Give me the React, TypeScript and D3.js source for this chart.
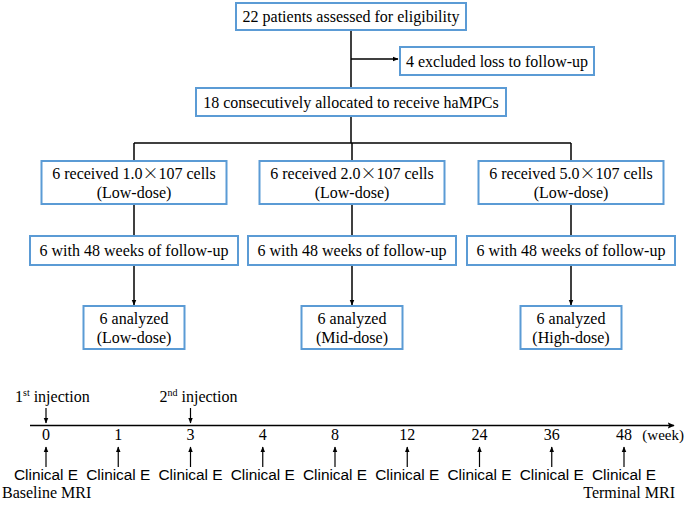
import React from "react";
import * as d3 from "d3";

// ---------- data ----------
const topLabel = "22 patients assessed for eligibility";
const excludedLabel = "4 excluded loss to follow-up";
const allocatedLabel = "18 consecutively allocated to receive haMPCs";
const doseFactors = ["1.0", "2.0", "5.0"];
const doseGroupLabels = ["(Low-dose)", "(Low-dose)", "(Low-dose)"];
const followUpLabels = [
  "6 with 48 weeks of follow-up",
  "6 with 48 weeks of follow-up",
  "6 with 48 weeks of follow-up",
];
const analyzedGroups = ["(Low-dose)", "(Mid-dose)", "(High-dose)"];
const weeks = ["0", "1", "3", "4", "8", "12", "24", "36", "48"];
const injections = [
  { week: "0", num: "1", ord: "st" },
  { week: "3", num: "2", ord: "nd" },
];
const clinicalLabel = "Clinical E";

// ---------- layout ----------
const W = 685;
const H = 508;
const SERIF = "Liberation Serif, Times New Roman, serif";
const SANS = "Liberation Sans, Arial, sans-serif";
const BOX = "#5B9BD5";
const colX = [134, 352, 571];
const row1 = { w: 185, y: 161, h: 43 };
const row2 = { w: 208, y: 236, h: 29 };
const row3 = { w: 101, y: 306, h: 43 };

const serif = { fontFamily: SERIF, fontSize: 16 } as React.CSSProperties;

function Box({ x, y, w, h }: { x: number; y: number; w: number; h: number }) {
  return <rect x={x} y={y} width={w} height={h} fill="#fff" stroke={BOX} strokeWidth={2} />;
}

function T(props: any) {
  const { style, children, ...rest } = props;
  return (
    <text textAnchor="middle" fill="#000" style={{ ...serif, ...(style || {}) }} {...rest}>
      {children}
    </text>
  );
}

export default function App() {
  const xw = d3.scalePoint<string>().domain(weeks).range([46, 624]);
  const axisY = 425.5;
  return (
    <svg
      width={W}
      height={H}
      viewBox={`0 0 ${W} ${H}`}
      style={{ position: "absolute", left: 0, top: 0, background: "#fff" }}
    >
      <defs>
        <marker id="ah" viewBox="0 0 10 10" refX="9" refY="5" markerWidth="6" markerHeight="6" orient="auto" markerUnits="userSpaceOnUse">
          <path d="M0,1 L10,5 L0,9 z" fill="#000" />
        </marker>
        <marker id="ah2" viewBox="0 0 10 10" refX="9" refY="5" markerWidth="7" markerHeight="7" orient="auto" markerUnits="userSpaceOnUse">
          <path d="M0,0.5 L10,5 L0,9.5 L2,5 z" fill="#000" />
        </marker>
      </defs>

      {/* connectors */}
      <g stroke="#000" strokeWidth={1.5} fill="none">
        <line x1={351} y1={30} x2={351} y2={88} />
        <line x1={351} y1={59} x2={398} y2={59} markerEnd="url(#ah)" />
        <line x1={351} y1={116} x2={351} y2={143} />
        <line x1={colX[0]} y1={143} x2={colX[2]} y2={143} />
        {colX.map((cx, i) => (
          <g key={i}>
            <line x1={cx} y1={143} x2={cx} y2={row1.y} />
            <line x1={cx} y1={row1.y + row1.h} x2={cx} y2={row2.y} />
            <line x1={cx} y1={row2.y + row2.h} x2={cx} y2={row3.y - 1} markerEnd="url(#ah)" />
          </g>
        ))}
      </g>

      {/* boxes */}
      <Box x={236} y={3} w={230} h={27} />
      <T x={351} y={22}>{topLabel}</T>
      <Box x={400} y={47} w={194} h={28} />
      <T x={497} y={67}>{excludedLabel}</T>
      <Box x={196} y={88} w={310} h={28} />
      <T x={351} y={108}>{allocatedLabel}</T>

      {colX.map((cx, i) => (
        <g key={i}>
          <Box x={cx - row1.w / 2} y={row1.y} w={row1.w} h={row1.h} />
          <T x={cx} y={row1.y + 18}>
            6 received {doseFactors[i]}
            <tspan style={{ fontFamily: "Noto Sans CJK SC, sans-serif", fontWeight: 300 }}>×</tspan>107 cells
          </T>
          <T x={cx} y={row1.y + 37}>{doseGroupLabels[i]}</T>

          <Box x={cx - row2.w / 2} y={row2.y} w={row2.w} h={row2.h} />
          <T x={cx} y={row2.y + 20}>{followUpLabels[i]}</T>

          <Box x={cx - row3.w / 2} y={row3.y} w={row3.w} h={row3.h} />
          <T x={cx} y={row3.y + 18}>6 analyzed</T>
          <T x={cx} y={row3.y + 37}>{analyzedGroups[i]}</T>
        </g>
      ))}

      {/* timeline */}
      <line x1={30} y1={axisY} x2={674} y2={axisY} stroke="#000" strokeWidth={1.5} markerEnd="url(#ah2)" />
      {injections.map((inj) => {
        const x = xw(inj.week)!;
        return (
          <g key={inj.week}>
            <T x={x - 31} y={402} textAnchor="start">
              {inj.num}
              <tspan style={{ fontSize: 10 }} dy={-6}>{inj.ord}</tspan>
              <tspan dy={6}> injection</tspan>
            </T>
            <line x1={x} y1={408} x2={x} y2={423} stroke="#000" strokeWidth={1.2} markerEnd="url(#ah)" />
          </g>
        );
      })}
      {weeks.map((w) => {
        const x = xw(w)!;
        return (
          <g key={w}>
            <T x={x} y={440}>{w}</T>
            <line x1={x} y1={467} x2={x} y2={447} stroke="#000" strokeWidth={1.2} markerEnd="url(#ah)" />
            <T x={x} y={480} style={{ fontFamily: SANS, fontSize: 15.4 }}>{clinicalLabel}</T>
          </g>
        );
      })}
      <T x={684} y={440} textAnchor="end" style={{ fontSize: 15 }}>(week)</T>
      <T x={2} y={498} textAnchor="start">Baseline MRI</T>
      <T x={675} y={498} textAnchor="end">Terminal MRI</T>
    </svg>
  );
}
